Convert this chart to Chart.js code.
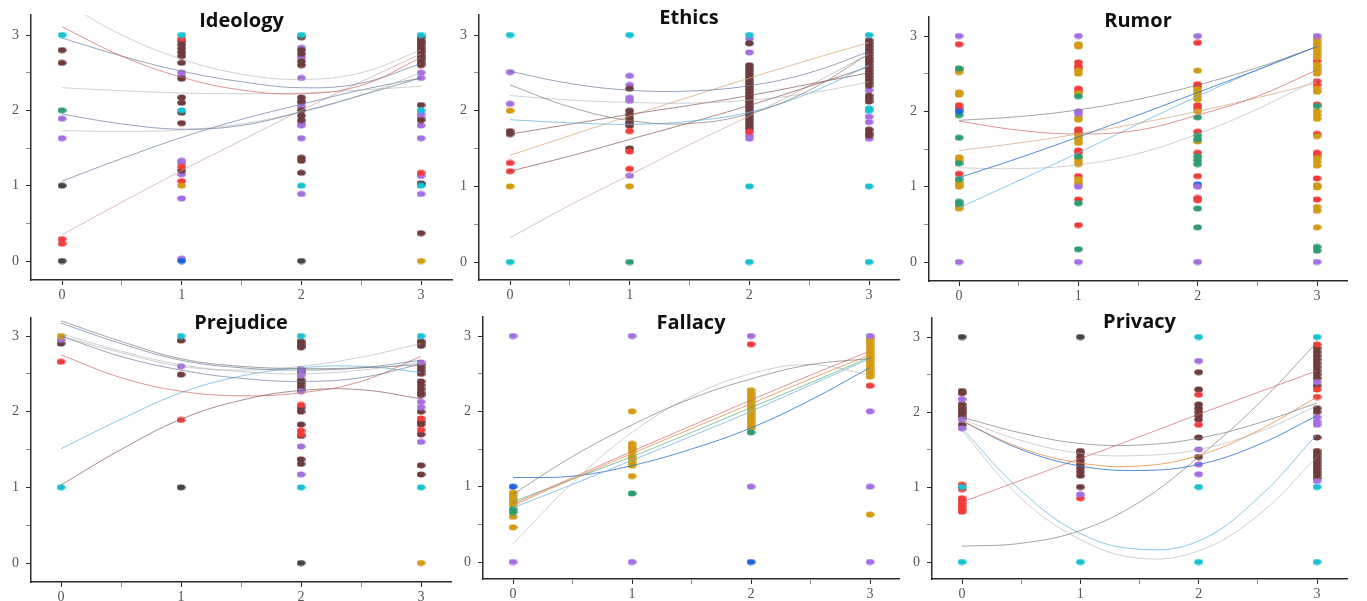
<!DOCTYPE html>
<html><head><meta charset="utf-8">
<script src="https://cdn.jsdelivr.net/npm/chart.js@4.4.1/dist/chart.umd.min.js"></script>
<style>
html,body{margin:0;padding:0;background:#fff;width:1367px;height:601px;overflow:hidden;position:relative}
canvas{position:absolute}
</style></head><body>
<script>
// ---------- DATA ----------
const xCategories = [0, 1, 2, 3];
const curveX = [0, 0.5, 1, 1.5, 2, 2.5, 3];
const yTickLabels = ['0', '1', '2', '3'];
const tickValues = [0, 0.5, 1, 1.5, 2, 2.5, 3];
const panelTitles = ['Ideology', 'Ethics', 'Rumor', 'Prejudice', 'Fallacy', 'Privacy'];

// point groups: [colour, values at x=0, x=1, x=2, x=3]  (first = drawn on top)
const ideologyPoints = [
  ['cyan',   [3], [3, 2.0], [3, 1.0], [3, 2.0, 1.0]],
  ['dark',   [1, 0], [], [0], [1.02]],
  ['blue',   [], [0], [], []],
  ['gold',   [], [1.0], [], [0]],
  ['green',  [2.0], [], [], []],
  ['red',    [0.29, 0.23], [2.95, 1.25, 1.06], [], [1.17]],
  ['brown',  [2.8, 2.63], [2.92, 2.87, 2.82, 2.77, 2.72, 2.63, 2.42, 2.17, 2.1, 1.97, 1.83, 1.2], [2.97, 2.8, 2.75, 2.65, 2.6, 2.17, 2.12, 2.0, 1.93, 1.87, 1.37, 1.33, 1.17], [2.97, 2.93, 2.9, 2.87, 2.83, 2.8, 2.77, 2.73, 2.7, 2.67, 2.63, 2.6, 2.07, 1.87, 1.03, 0.37]],
  ['purple', [1.89, 1.63], [2.5, 2.45, 1.33, 1.3, 1.15, 0.83, 0.03], [2.83, 2.7, 2.43, 2.1, 2.05, 1.83, 1.8, 1.63, 0.89], [2.5, 2.43, 1.95, 1.9, 1.8, 1.63, 1.13, 0.89]]
];
const ideologyCurves = [
  ['lgray',  [3.45, 3.0, 2.68, 2.48, 2.41, 2.5, 2.8]],
  ['red',    [3.11, 2.72, 2.44, 2.27, 2.22, 2.33, 2.7]],
  ['bgray',  [2.96, 2.72, 2.52, 2.38, 2.3, 2.36, 2.62]],
  ['lgray',  [2.3, 2.26, 2.23, 2.22, 2.23, 2.27, 2.32]],
  ['bgray',  [1.95, 1.82, 1.75, 1.8, 1.98, 2.2, 2.43]],
  ['lgray',  [1.73, 1.72, 1.74, 1.82, 1.98, 2.2, 2.5]],
  ['bgray',  [1.06, 1.36, 1.64, 1.88, 2.08, 2.27, 2.43]],
  ['pink',   [0.35, 0.78, 1.2, 1.6, 2.0, 2.38, 2.75]]
];

const ethicsPoints = [
  ['cyan',   [3, 0], [3], [3, 1, 0], [3, 2.03, 2.0, 1, 0]],
  ['green',  [], [0], [], []],
  ['gold',   [2.0, 1.0], [1.0], [], []],
  ['red',    [1.31, 1.2], [1.73, 1.46, 1.23], [1.72], []],
  ['brown',  [1.73, 1.69], [2.29, 2.0, 1.95, 1.9, 1.85, 1.8, 1.5], [2.89, 2.6, 2.56, 2.52, 2.48, 2.44, 2.4, 2.36, 2.32, 2.28, 2.24, 2.2, 2.16, 2.12, 2.08, 2.04, 2.0, 1.96, 1.92, 1.88, 1.84, 1.8, 1.76], [2.93, 2.89, 2.85, 2.81, 2.77, 2.73, 2.69, 2.65, 2.61, 2.57, 2.53, 2.49, 2.45, 2.41, 2.37, 2.33, 2.2, 2.16, 2.12, 1.75, 1.7, 1.67]],
  ['purple', [2.51, 2.09], [2.46, 2.34, 2.17, 2.13, 1.83, 1.14], [2.95, 2.77, 1.67, 1.63], [2.27, 1.92, 1.85, 1.63]]
];
const ethicsCurves = [
  ['bgray',  [2.52, 2.36, 2.27, 2.26, 2.33, 2.5, 2.78]],
  ['gray',   [2.34, 2.05, 1.87, 1.83, 1.96, 2.27, 2.75]],
  ['lgray',  [2.2, 2.14, 2.11, 2.1, 2.14, 2.23, 2.38]],
  ['lblue',  [1.88, 1.84, 1.82, 1.86, 1.98, 2.23, 2.6]],
  ['brown',  [1.69, 1.82, 1.95, 2.07, 2.2, 2.35, 2.5]],
  ['tan',    [1.41, 1.67, 1.93, 2.18, 2.43, 2.67, 2.9]],
  ['brown',  [1.2, 1.4, 1.62, 1.84, 2.07, 2.32, 2.58]],
  ['pink',   [0.32, 0.75, 1.15, 1.55, 1.93, 2.33, 2.75]]
];

const rumorPoints = [
  ['purple', [3, 0], [3, 2.0, 1.97, 1.0, 0], [3, 1.0, 0], [3, 0]],
  ['blue',   [2.0], [], [1.03], []],
  ['green',  [2.57, 1.95, 1.65, 1.31, 1.1, 0.8, 0.77], [2.2, 1.4, 0.78, 0.17], [1.92, 1.68, 1.63, 1.4, 1.35, 1.3, 0.71, 0.46], [2.07, 0.2, 0.15]],
  ['gold',   [2.55, 2.52, 2.25, 2.22, 1.39, 1.35, 1.06, 1.02, 1.0, 0.74, 0.71], [2.89, 2.86, 2.54, 2.5, 2.24, 1.92, 1.89, 1.68, 1.65, 1.62, 1.58, 1.38, 1.34, 1.3, 1.1, 1.06, 1.03], [2.54, 2.29, 2.25, 2.2, 2.16, 2.0, 1.6], [2.96, 2.92, 2.88, 2.84, 2.8, 2.76, 2.72, 2.62, 2.58, 2.54, 2.5, 2.3, 2.26, 2.0, 1.95, 1.9, 1.67, 1.38, 1.33, 1.28, 1.02, 0.99, 0.73, 0.68, 0.46]],
  ['red',    [2.89, 2.08, 2.04, 1.17], [2.65, 2.6, 2.57, 2.3, 2.27, 1.76, 1.72, 1.48, 1.45, 1.14, 0.83, 0.49], [2.91, 2.36, 2.33, 2.08, 2.04, 1.73, 1.45, 1.14, 0.85, 0.82], [2.67, 2.4, 2.35, 2.09, 1.7, 1.45, 1.42, 1.11, 0.83]]
];
const rumorCurves = [
  ['gray',   [1.88, 1.93, 2.02, 2.16, 2.35, 2.58, 2.86]],
  ['blue',   [1.12, 1.38, 1.66, 1.95, 2.25, 2.55, 2.86]],
  ['red',    [1.87, 1.75, 1.7, 1.75, 1.95, 2.2, 2.55]],
  ['tan',    [1.48, 1.58, 1.7, 1.84, 2.0, 2.18, 2.38]],
  ['lgray',  [1.25, 1.24, 1.29, 1.44, 1.7, 2.03, 2.42]],
  ['lblue',  [0.72, 1.08, 1.45, 1.83, 2.2, 2.55, 2.86]]
];

const prejudicePoints = [
  ['cyan',   [1.0], [3], [3, 1], [3, 1]],
  ['gold',   [3.0], [], [], [0]],
  ['dark',   [], [1.0], [0], []],
  ['purple', [2.95], [2.6], [2.55, 2.48, 2.27, 1.54, 1.17], [2.65, 2.13, 2.06, 1.6]],
  ['red',    [2.66], [1.89], [2.09, 1.75, 1.7], [1.91, 1.76]],
  ['brown',  [2.9], [2.94, 2.49], [2.93, 2.9, 2.87, 2.85, 2.56, 2.52, 2.42, 2.38, 2.34, 2.3, 2.05, 2.0, 1.83, 1.68, 1.37, 1.31], [2.93, 2.9, 2.87, 2.62, 2.58, 2.54, 2.5, 2.4, 2.35, 2.3, 2.25, 2.22, 2.0, 1.87, 1.83, 1.7, 1.29, 1.17]]
];
const prejudiceCurves = [
  ['gray',   [3.2, 2.93, 2.7, 2.6, 2.57, 2.58, 2.62]],
  ['bgray',  [3.17, 2.9, 2.68, 2.58, 2.55, 2.58, 2.68]],
  ['bgray',  [3.0, 2.73, 2.55, 2.44, 2.4, 2.45, 2.63]],
  ['lgray',  [3.03, 2.8, 2.62, 2.53, 2.5, 2.55, 2.65]],
  ['red',    [2.75, 2.45, 2.27, 2.21, 2.25, 2.4, 2.73]],
  ['lblue',  [1.51, 1.9, 2.25, 2.47, 2.58, 2.6, 2.52]],
  ['brown',  [1.03, 1.5, 1.9, 2.15, 2.28, 2.29, 2.17]],
  ['lgray',  [3.0, 2.78, 2.6, 2.55, 2.6, 2.72, 2.9]]
];

const fallacyPoints = [
  ['purple', [3, 0], [3, 0], [3, 1], [3, 2, 1, 0]],
  ['blue',   [1.0], [], [0], []],
  ['red',    [], [], [2.89], [2.34]],
  ['green',  [0.7, 0.66], [0.91], [1.72], []],
  ['gold',   [0.92, 0.88, 0.84, 0.8, 0.76, 0.6, 0.46], [2.0, 1.57, 1.53, 1.5, 1.46, 1.4, 1.36, 1.32, 1.28, 1.14], [2.28, 2.24, 2.2, 2.16, 2.12, 2.08, 2.04, 2.0, 1.96, 1.92, 1.88, 1.84, 1.8, 1.78], [2.97, 2.93, 2.89, 2.85, 2.81, 2.77, 2.73, 2.69, 2.65, 2.61, 2.57, 2.53, 2.49, 2.46, 0.63]]
];
const fallacyCurves = [
  ['gray',   [0.9, 1.4, 1.82, 2.17, 2.43, 2.62, 2.7]],
  ['lgray',  [0.24, 1.05, 1.72, 2.2, 2.5, 2.62, 2.48]],
  ['red',    [0.77, 1.12, 1.47, 1.81, 2.15, 2.48, 2.8]],
  ['orange', [0.75, 1.1, 1.44, 1.77, 2.1, 2.43, 2.75]],
  ['lblue',  [0.72, 1.03, 1.35, 1.67, 2.0, 2.35, 2.7]],
  ['blue',   [1.12, 1.14, 1.28, 1.5, 1.78, 2.15, 2.58]],
  ['green',  [0.8, 1.1, 1.4, 1.72, 2.05, 2.38, 2.72]]
];

const privacyPoints = [
  ['cyan',   [1.0, 0], [0], [3, 1, 0], [3, 1.0, 0]],
  ['dark',   [3], [3], [], []],
  ['purple', [2.17, 1.9, 1.78], [0.9], [2.68, 1.5, 1.3, 1.17], [2.4, 1.93, 1.87, 1.83, 1.08]],
  ['red',    [1.03, 0.97, 0.85, 0.82, 0.78, 0.74, 0.7, 0.67], [0.85], [2.23, 1.83], [2.9, 2.3, 2.2]],
  ['brown',  [2.28, 2.25, 2.1, 2.06, 2.03, 2.0, 1.97, 1.93, 1.83], [1.48, 1.45, 1.4, 1.35, 1.3, 1.25, 1.2, 1.15, 1.0], [2.53, 2.3, 2.1, 2.05, 2.0, 1.95, 1.9, 1.66, 1.4], [2.85, 2.8, 2.75, 2.7, 2.65, 2.6, 2.55, 2.5, 2.45, 2.35, 2.05, 2.0, 1.66, 1.48, 1.44, 1.4, 1.36, 1.32, 1.28, 1.24, 1.2, 1.16, 1.12]]
];
const privacyCurves = [
  ['gray',   [1.93, 1.72, 1.58, 1.56, 1.65, 1.85, 2.12]],
  ['lgray',  [1.9, 1.62, 1.45, 1.42, 1.5, 1.73, 2.08]],
  ['orange', [1.88, 1.52, 1.32, 1.28, 1.42, 1.75, 2.2]],
  ['blue',   [1.88, 1.5, 1.28, 1.22, 1.3, 1.56, 1.95]],
  ['red',    [0.8, 1.09, 1.38, 1.67, 1.97, 2.26, 2.55]],
  ['gray',   [0.21, 0.25, 0.42, 0.8, 1.4, 2.1, 2.93]],
  ['lblue',  [1.78, 0.95, 0.38, 0.17, 0.28, 0.85, 1.7]],
  ['lgray',  [1.75, 0.85, 0.3, 0.05, 0.15, 0.62, 1.4]]
];

const panelPoints = [ideologyPoints, ethicsPoints, rumorPoints, prejudicePoints, fallacyPoints, privacyPoints];
const panelCurves = [ideologyCurves, ethicsCurves, rumorCurves, prejudiceCurves, fallacyCurves, privacyCurves];

// ---------- STYLE / LAYOUT ----------
const dotColor = {cyan:'#19c2d2', purple:'#a46fe0', brown:'#6e3c3c', red:'#f03c3c', dark:'#464646', green:'#2e9d70', gold:'#d29b14', blue:'#1e63dc'};
const lineColor = {
  lgray:'rgba(170,170,170,0.55)', gray:'rgba(115,115,115,0.65)', bgray:'rgba(95,115,150,0.65)',
  red:'rgba(205,105,105,0.7)', blue:'rgba(55,120,205,0.85)', lblue:'rgba(110,185,225,0.8)',
  orange:'rgba(230,145,75,0.8)', brown:'rgba(125,75,75,0.65)', green:'rgba(85,170,120,0.7)',
  pink:'rgba(205,165,165,0.7)', purple:'rgba(160,120,190,0.6)', tan:'rgba(215,170,125,0.75)'
};
// page-pixel layout of each panel
const layout = [
  {axisX:31,  rightX:452,  x0:62,  x3:421,  topY:15,  axisY:280, y3:35,  y0:261, titleY:21},
  {axisX:479, rightX:899,  x0:510, x3:869,  topY:15,  axisY:280, y3:35,  y0:262, titleY:18},
  {axisX:929, rightX:1347, x0:959, x3:1317, topY:17,  axisY:281, y3:36,  y0:262, titleY:21},
  {axisX:31,  rightX:451,  x0:61,  x3:421,  topY:318, axisY:582, y3:336, y0:563, titleY:323},
  {axisX:483, rightX:899,  x0:513, x3:870,  topY:317, axisY:579, y3:336, y0:562, titleY:323},
  {axisX:932, rightX:1347, x0:962, x3:1317, topY:318, axisY:579, y3:337, y0:562, titleY:322}
];

const dotImgs = {};
for (const k in dotColor) {
  const c = document.createElement('canvas');
  c.width = 9; c.height = 7;
  const g = c.getContext('2d');
  g.fillStyle = dotColor[k];
  g.beginPath(); g.ellipse(4.5, 3.5, 4.3, 3.0, 0, 0, Math.PI * 2); g.fill();
  dotImgs[k] = c;
}

const titlePlugin = {
  id: 'panelTitle',
  afterDraw(chart, args, opts) {
    const ctx = chart.ctx, a = chart.chartArea;
    ctx.save();
    ctx.font = 'bold 20px "Open Sans", "Noto Sans", sans-serif';
    ctx.fillStyle = '#111';
    ctx.textAlign = 'center';
    ctx.textBaseline = 'middle';
    ctx.fillText(opts.text, (a.left + a.right) / 2, opts.y);
    ctx.restore();
  }
};

const isInt = v => Math.abs(v - Math.round(v)) < 1e-6;
const setTicks = s => { s.ticks = tickValues.map(v => ({value: v})); };

panelTitles.forEach((title, p) => {
  const L = layout[p];
  const cL = L.axisX - 40, cT = L.topY - 20;
  const cW = L.rightX + 6 - cL, cH = L.axisY + 24 - cT;
  const cv = document.createElement('canvas');
  cv.width = cW; cv.height = cH;
  cv.style.left = cL + 'px'; cv.style.top = cT + 'px';
  cv.style.width = cW + 'px'; cv.style.height = cH + 'px';
  document.body.appendChild(cv);

  const ppx = (L.x3 - L.x0) / 3, ppy = (L.y0 - L.y3) / 3;
  const xmin = (L.axisX - L.x0) / ppx, xmax = 3 + (L.rightX - L.x3) / ppx;
  const ymin = -(L.axisY - L.y0) / ppy, ymax = 3 + (L.y3 - L.topY) / ppy;

  const datasets = [];
  panelCurves[p].forEach(([col, ys]) => {
    datasets.push({
      type: 'line', data: curveX.map((x, i) => ({x, y: ys[i]})),
      borderColor: lineColor[col], borderWidth: 1, pointRadius: 0, tension: 0.4,
      fill: false, order: 1
    });
  });
  panelPoints[p].forEach(grp => {
    const col = grp[0];
    const data = [];
    xCategories.forEach((x, i) => grp[i + 1].forEach(y => data.push({x, y})));
    datasets.push({
      type: 'scatter', data, pointStyle: dotImgs[col], pointRadius: 4,
      backgroundColor: dotColor[col], borderColor: dotColor[col], order: 2
    });
  });

  const tickFont = {family: '"Liberation Serif", "DejaVu Serif", serif', size: 14};
  const tickCol = ctx => (ctx.tick && isInt(ctx.tick.value)) ? '#2a2a2a' : '#8a8a8a';
  const common = {
    type: 'linear',
    border: {display: true, color: '#2a2a2a', width: 1.5},
    grid: {display: true, drawOnChartArea: false, drawTicks: true, tickLength: 5, color: '#2a2a2a', tickColor: tickCol, tickWidth: 1},
    afterBuildTicks: setTicks
  };
  new Chart(cv, {
    type: 'scatter',
    data: {datasets},
    plugins: [titlePlugin],
    options: {
      responsive: false, animation: false, devicePixelRatio: 1, events: [],
      layout: {padding: {left: 9, top: 20, right: 6, bottom: 4}},
      plugins: {legend: {display: false}, tooltip: {enabled: false}, panelTitle: {text: title, y: L.titleY - cT}},
      scales: {
        x: Object.assign({}, common, {
          min: xmin, max: xmax,
          ticks: {autoSkip: false, maxRotation: 0, padding: 2, color: '#555', font: tickFont,
            callback: v => isInt(v) ? String(xCategories[Math.round(v)]) : ''},
          afterFit: s => { s.height = 20; }
        }),
        y: Object.assign({}, common, {
          min: ymin, max: ymax,
          ticks: {autoSkip: false, padding: 7, color: '#555', font: tickFont,
            callback: v => isInt(v) ? yTickLabels[Math.round(v)] : ''},
          afterFit: s => { s.width = 31; }
        })
      }
    }
  });
});
</script>
</body></html>
